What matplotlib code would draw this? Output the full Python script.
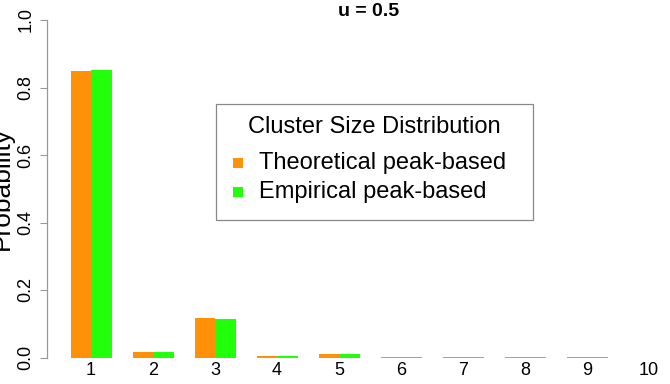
import numpy as np
import matplotlib
matplotlib.use("Agg")
from matplotlib import pyplot as plt
from matplotlib.patches import Rectangle

plt.rcParams['font.family'] = ['Liberation Sans', 'DejaVu Sans']

# cluster sizes and probabilities
sizes = [1, 2, 3, 4, 5, 6, 7, 8, 9, 10]
theoretical = [0.849, 0.015, 0.117, 0.003, 0.010, 0.002, 0.002, 0.0005, 0.0004, 0.0]
empirical = [0.851, 0.015, 0.114, 0.003, 0.010, 0.002, 0.002, 0.0005, 0.0004, 0.0]
legend_labels = ['Theoretical peak-based', 'Empirical peak-based']

col_theo = '#FF9108'
col_emp = '#22FF0A'

W, H = 670, 384
fig = plt.figure(figsize=(W / 100, H / 100), dpi=100)
# axes: x from 47px to 670px, y from 20px (1.0) to 357.5px (0.0)
ax = fig.add_axes([47 / W, (H - 357.5) / H, (W - 47) / W, (357.5 - 20) / H])

x = np.array(sizes, dtype=float)
bw = 20.5 / 62
ax.bar(x - bw / 2, theoretical, width=bw, color=col_theo, linewidth=0)
ax.bar(x + bw / 2, empirical, width=bw, color=col_emp, linewidth=0)

ax.set_xlim(1 - 44 / 62, 10 + 21 / 62)
ax.set_ylim(0, 1)

for s in ['top', 'right', 'bottom']:
    ax.spines[s].set_visible(False)
ax.spines['left'].set_color('#999999')
ax.spines['left'].set_linewidth(0.9)

ax.set_yticks([0.0, 0.2, 0.4, 0.6, 0.8, 1.0])
ax.set_yticklabels(['0.0', '0.2', '0.4', '0.6', '0.8', '1.0'], rotation=90, va='center', fontsize=13)
ax.tick_params(axis='y', length=5, color='#999999', pad=4)

ax.set_xticks(x)
ax.set_xticklabels([str(s) for s in sizes], fontsize=13)
ax.tick_params(axis='x', length=0, pad=3)

fig.text(14 / W, 1 - 188 / H, 'Probability', rotation=90, ha='right', va='center',
         fontsize=19)
fig.text(369 / W, 1 - 12 / H, 'u = 0.5', ha='center', va='center', fontsize=14,
         fontweight='bold')

# legend box drawn by hand to match the R layout
fig.patches.append(Rectangle((216 / W, 1 - 220 / H), (533 - 216) / W, (220 - 104) / H,
                             transform=fig.transFigure, facecolor='white',
                             edgecolor='#888888', linewidth=0.9, zorder=5))
fig.text(374 / W, 1 - 127 / H, 'Cluster Size Distribution', ha='center', va='center',
         fontsize=17, zorder=6)
for i, (lab, col) in enumerate(zip(legend_labels, [col_theo, col_emp])):
    yc = 163 + 29 * i
    fig.patches.append(Rectangle((232.5 / W, 1 - (yc + 5) / H), 10 / W, 10 / H,
                                 transform=fig.transFigure, facecolor=col,
                                 edgecolor='none', zorder=6))
    fig.text(259 / W, 1 - yc / H, lab, ha='left', va='center', fontsize=17, zorder=6)

fig.savefig('out.png', dpi=100)
